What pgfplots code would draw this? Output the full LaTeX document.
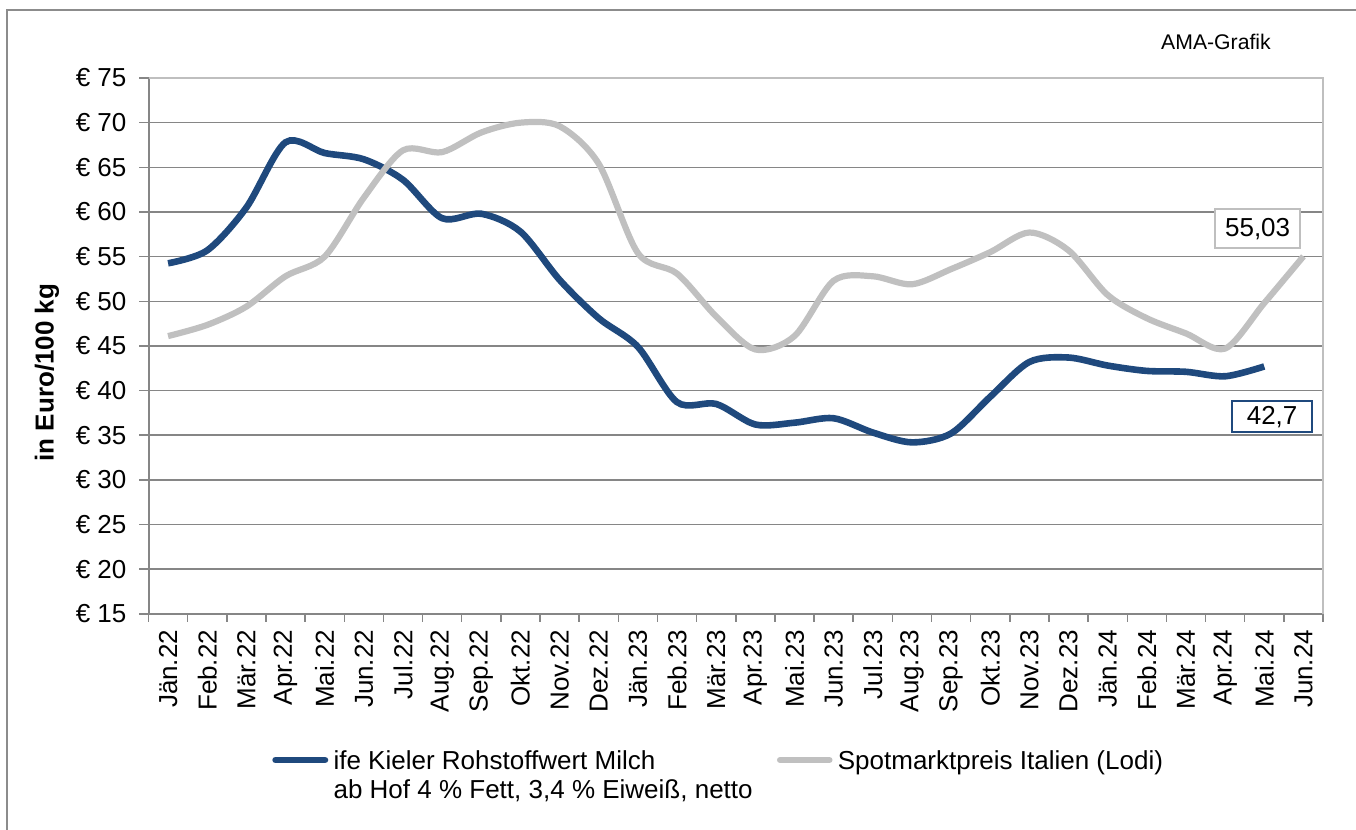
\documentclass[border=0pt]{standalone}
\usepackage{pgfplots}
\pgfplotsset{compat=1.18}
\usepackage{fontspec}
\setmainfont{Liberation Sans}
\definecolor{milkblue}{RGB}{31,73,125}
\definecolor{spotgray}{RGB}{192,192,192}
\definecolor{gridgray}{RGB}{134,134,134}
\definecolor{bordergray}{RGB}{191,191,191}
\definecolor{framegray}{RGB}{140,140,140}

\pgfplotstableread{
i v
0 54.25
1 55.7
2 60.5
3 67.8
4 66.6
5 65.9
6 63.6
7 59.3
8 59.8
9 57.8
10 52.4
11 48.1
12 44.9
13 38.7
14 38.5
15 36.2
16 36.4
17 36.9
18 35.3
19 34.2
20 35.2
21 39.3
22 43.2
23 43.7
24 42.8
25 42.2
26 42.1
27 41.6
28 42.7
}\kieler

\pgfplotstableread{
i v
0 46.1
1 47.35
2 49.4
3 52.8
4 55.0
5 61.6
6 66.9
7 66.7
8 68.9
9 70.0
10 69.6
11 65.4
12 55.4
13 53.1
14 48.3
15 44.6
16 46.1
17 52.3
18 52.8
19 51.9
20 53.6
21 55.5
22 57.7
23 55.7
24 50.7
25 48.1
26 46.4
27 44.7
28 49.8
29 55.03
}\lodi

\begin{document}
\begin{tikzpicture}[x=1pt,y=1pt]
\useasboundingbox (0,0) rectangle (678,-415);
\begin{scope}
\clip (0,0) rectangle (678,-415);
\draw[framegray, line width=0.9pt] (3.3,-430) -- (3.3,-5) -- (700,-5);
\end{scope}
\begin{axis}[
  at={(74.25pt,-306.9pt)}, anchor=south west,
  scale only axis, width=587.25pt, height=267.9pt,
  xmin=-0.5, xmax=29.5, ymin=15, ymax=75,
  xtick={0,...,29},
  xticklabels={Jän.22,Feb.22,Mär.22,Apr.22,Mai.22,Jun.22,Jul.22,Aug.22,Sep.22,Okt.22,Nov.22,Dez.22,Jän.23,Feb.23,Mär.23,Apr.23,Mai.23,Jun.23,Jul.23,Aug.23,Sep.23,Okt.23,Nov.23,Dez.23,Jän.24,Feb.24,Mär.24,Apr.24,Mai.24,Jun.24},
  minor xtick={-0.5,0.5,...,29.5},
  major x tick style={draw=none},
  minor x tick style={gridgray, line width=0.75pt},
  y tick style={gridgray, line width=0.75pt},
  tick align=outside, major tick length=4.5pt, minor tick length=4pt,
  xtick pos=bottom, ytick pos=left,
  ytick={15,20,...,75},
  yticklabels={€ 15,€ 20,€ 25,€ 30,€ 35,€ 40,€ 45,€ 50,€ 55,€ 60,€ 65,€ 70,€ 75},
  ymajorgrids, xmajorgrids=false,
  major grid style={gridgray, line width=0.75pt},
  axis line style={draw=none},
  tick label style={font=\fontsize{13}{15}\selectfont, text=black},
  xticklabel style={rotate=90, anchor=east},
  yticklabel style={xshift=-3pt},
  clip=false,
  legend style={at={(axis description cs:0.1054,-0.2518)}, anchor=north west,
    draw=none, fill=none, inner sep=0pt, outer sep=0pt,
    font=\fontsize{13}{14.5}\selectfont,
    cells={anchor=base west},
    nodes={inner sep=0pt, outer sep=0pt},
    /tikz/every odd column/.append style={column sep=2.65pt},
    /tikz/every even column/.append style={column sep=12.15pt}},
  legend columns=2,
  legend image code/.code={\draw[#1, line cap=round] (1.65pt,4.5pt) -- (26.35pt,4.5pt);},
]
\addplot[milkblue, line width=3.3pt, smooth, tension=0.5] table[x=i, y=v] {\kieler};
\addlegendentry{\begin{tabular}[t]{@{}l@{}}ife Kieler Rohstoffwert Milch\\ab Hof 4 \% Fett, 3,4 \% Eiweiß, netto\end{tabular}}
\addplot[spotgray, line width=3.1pt, smooth, tension=0.5] table[x=i, y=v] {\lodi};
\addlegendentry{Spotmarktpreis Italien (Lodi)}
\draw[gridgray, line width=1pt] (rel axis cs:0,1) -- (rel axis cs:0,0) -- (rel axis cs:1,0);
\draw[bordergray, line width=1pt] (rel axis cs:0,1) -- (rel axis cs:1,1) -- (rel axis cs:1,0);
\node[draw=bordergray, line width=1pt, fill=white, minimum width=42.5pt, minimum height=19.5pt, inner sep=0pt, font=\fontsize{13}{15}\selectfont] at (axis cs:27.83,58.11) {55,03};
\node[draw=milkblue, line width=1.2pt, fill=white, minimum width=40pt, minimum height=15.5pt, inner sep=0pt, font=\fontsize{13}{15}\selectfont] at (axis cs:28.2,37.07) {42,7};
\end{axis}
\node[rotate=90, font=\bfseries\fontsize{13}{15}\selectfont, inner sep=0pt] at (23.5,-186.3) {in Euro/100 kg};
\node[anchor=base, font=\fontsize{10.6}{12}\selectfont, inner sep=0pt] at (608,-24.5) {AMA-Grafik};
\end{tikzpicture}
\end{document}
